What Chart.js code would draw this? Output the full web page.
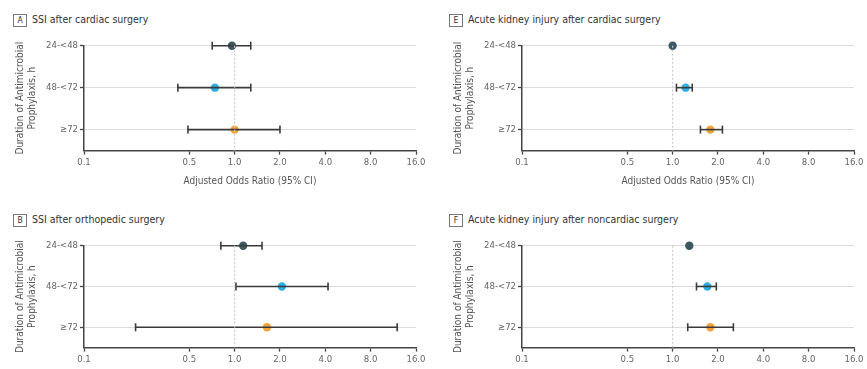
<!DOCTYPE html>
<html>
<head>
<meta charset="utf-8">
<script src="https://cdn.jsdelivr.net/npm/chart.js@4.4.1/dist/chart.umd.min.js"></script>
<style>
  html, body { margin: 0; padding: 0; background: #fff; overflow: hidden; }
  body { width: 867px; height: 369px; position: relative; font-family: 'Liberation Sans Narrow', 'DejaVu Sans Condensed', sans-serif; }
  .panel { position: absolute; }
  .title { position: absolute; font-size: 10.5px; color: #333; line-height: 12px; white-space: nowrap; }
  .title b { display: inline-block; font-weight: normal; border: 1px solid #777; width: 12px; height: 11px; line-height: 11px; text-align: center; font-size: 8.5px; margin-right: 5px; vertical-align: middle; }
</style>
</head>
<body>
<div class="title" style="left:13px; top:13px;"><b>A</b>SSI after cardiac surgery</div>
<div class="title" style="left:449px; top:13px;"><b>E</b>Acute kidney injury after cardiac surgery</div>
<div class="title" style="left:13px; top:213px;"><b>B</b>SSI after orthopedic surgery</div>
<div class="title" style="left:449px; top:213px;"><b>F</b>Acute kidney injury after noncardiac surgery</div>

<div class="panel" style="left:0; top:38px; width:430px; height:149px;"><canvas id="chartA"></canvas></div>
<div class="panel" style="left:438px; top:38px; width:429px; height:149px;"><canvas id="chartE"></canvas></div>
<div class="panel" style="left:0; top:238px; width:430px; height:129px;"><canvas id="chartB"></canvas></div>
<div class="panel" style="left:438px; top:238px; width:429px; height:129px;"><canvas id="chartF"></canvas></div>

<script>
// 카테고리 / 축 눈금
const categories = ['24-<48', '48-<72', '≥72'];
const xTicks = [0.1, 0.5, 1, 2, 4, 8, 16];
const pointColors = ['#3d5960', '#2eaee3', '#f0a23c'];

// A: SSI after cardiac surgery
const orA = [0.96, 0.74, 1.0];
const loA = [0.71, 0.42, 0.49];
const hiA = [1.28, 1.28, 2.0];

// B: SSI after orthopedic surgery
const orB = [1.14, 2.06, 1.64];
const loB = [0.81, 1.02, 0.22];
const hiB = [1.52, 4.17, 12.0];

// E: AKI after cardiac surgery
const orE = [1.0, 1.22, 1.78];
const loE = [null, 1.06, 1.53];
const hiE = [null, 1.35, 2.14];

// F: AKI after noncardiac surgery
const orF = [1.29, 1.70, 1.78];
const loF = [null, 1.44, 1.26];
const hiF = [null, 1.95, 2.53];

const FONT = "'Liberation Sans Narrow', 'DejaVu Sans Condensed', sans-serif";

function makePanel(id, orArr, loArr, hiArr, showXTitle, padRight) {
  const datasets = [];

  // 기준선 (OR = 1)
  datasets.push({
    type: 'line',
    data: [{ x: 1, y: 0 }, { x: 1, y: 2.5 }],
    borderColor: '#c6ccd8',
    borderWidth: 1.2,
    borderDash: [2, 2],
    pointRadius: 0,
    clip: false
  });

  // 95% CI 에러바
  categories.forEach((c, i) => {
    if (loArr[i] == null) return;
    datasets.push({
      type: 'line',
      data: [{ x: loArr[i], y: i }, { x: hiArr[i], y: i }],
      borderColor: '#3a3a3a',
      borderWidth: 1.6,
      pointStyle: 'line',
      pointRotation: 90,
      pointRadius: 4,
      pointBorderColor: '#3a3a3a',
      pointBorderWidth: 1.6,
      clip: false
    });
  });

  // 점 추정치
  datasets.push({
    type: 'scatter',
    data: orArr.map((v, i) => ({ x: v, y: i })),
    pointBackgroundColor: pointColors,
    pointBorderColor: pointColors,
    pointBorderWidth: 0,
    pointRadius: 4.2,
    clip: false
  });

  return new Chart(document.getElementById(id), {
    type: 'scatter',
    data: { datasets: datasets },
    options: {
      responsive: true,
      maintainAspectRatio: false,
      animation: false,
      events: [],
      layout: { padding: { left: 14, right: padRight, top: 6, bottom: 0 } },
      plugins: { legend: { display: false }, tooltip: { enabled: false } },
      scales: {
        x: {
          type: 'logarithmic',
          min: 0.1,
          max: 16,
          afterBuildTicks: (scale) => { scale.ticks = xTicks.map(v => ({ value: v })); },
          ticks: {
            color: '#666',
            font: { family: FONT, size: 9.5 },
            padding: 2,
            maxRotation: 0,
            autoSkip: false,
            callback: (v) => Number(v).toFixed(1)
          },
          grid: { drawOnChartArea: false, drawTicks: true, tickLength: 4, tickColor: '#444', tickWidth: 1.3 },
          border: { color: '#444', width: 1.5 },
          title: {
            display: showXTitle,
            text: 'Adjusted Odds Ratio (95% CI)',
            color: '#555',
            font: { family: FONT, size: 10 },
            padding: { top: 5, bottom: 0 }
          }
        },
        y: {
          type: 'linear',
          reverse: true,
          min: 0,
          max: 2.5,
          afterBuildTicks: (scale) => { scale.ticks = categories.map((c, i) => ({ value: i })); },
          afterFit: (scale) => { scale.width = 70; },
          ticks: {
            color: '#666',
            font: { family: FONT, size: 9.5 },
            padding: 2,
            callback: (v) => categories[v]
          },
          grid: { color: '#dcdcdc', lineWidth: 1, drawTicks: true, tickLength: 4, tickColor: '#444', tickWidth: 1.3 },
          border: { color: '#444', width: 1.5 },
          title: {
            display: true,
            text: ['Duration of Antimicrobial', 'Prophylaxis, h'],
            color: '#555',
            font: { family: FONT, size: 10, lineHeight: 1.25 },
            padding: { top: 0, bottom: 0 }
          }
        }
      }
    }
  });
}

makePanel('chartA', orA, loA, hiA, true, 14);
makePanel('chartE', orE, loE, hiE, true, 13);
makePanel('chartB', orB, loB, hiB, false, 14);
makePanel('chartF', orF, loF, hiF, false, 13);
</script>
</body>
</html>
